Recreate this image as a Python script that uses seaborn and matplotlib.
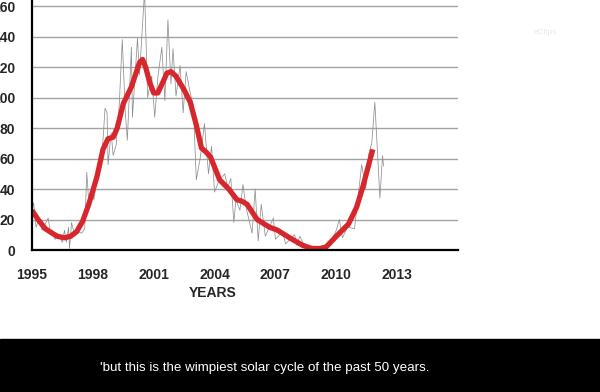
import pandas as pd
import seaborn as sns
import matplotlib.pyplot as plt

# Monthly sunspot numbers (thin grey trace)
monthly_years = [1995.00, 1995.08, 1995.2, 1995.35, 1995.5, 1995.8, 1995.9, 1996.15, 1996.3, 1996.5,
                 1996.6, 1996.7, 1996.8, 1996.85, 1996.95, 1997.1, 1997.3, 1997.45, 1997.6, 1997.7,
                 1997.8, 1997.95, 1998.05, 1998.2, 1998.35, 1998.5, 1998.6, 1998.7, 1998.75, 1998.9,
                 1999.0, 1999.15, 1999.3, 1999.45, 1999.6, 1999.7, 1999.9, 1999.95, 2000.2, 2000.3,
                 2000.55, 2000.7, 2000.9, 2001.05, 2001.2, 2001.4, 2001.55, 2001.7, 2001.85, 2001.95,
                 2002.1, 2002.3, 2002.45, 2002.6, 2002.8, 2002.95, 2003.1, 2003.3, 2003.5, 2003.7,
                 2003.85, 2004.0, 2004.2, 2004.5, 2004.65, 2004.8, 2004.95, 2005.05, 2005.25, 2005.4,
                 2005.55, 2005.85, 2006.0, 2006.15, 2006.3, 2006.5, 2006.9, 2007.0, 2007.35, 2007.5,
                 2007.95, 2008.05, 2008.2, 2008.5, 2008.8, 2009.1, 2009.4, 2009.7, 2010.0, 2010.15,
                 2010.3, 2010.55, 2010.9, 2011.25, 2011.45, 2011.6, 2011.75, 2011.9, 2012.15, 2012.28,
                 2012.33]
monthly_values = [26, 31, 15, 20, 13, 21, 12, 7, 10, 5,
                  13, 5, 15, 1, 18, 10, 12, 11, 14, 51,
                  31, 37, 33, 46, 52, 72, 93, 90, 56, 77,
                  62, 69, 95, 138, 90, 72, 133, 87, 139, 115,
                  170, 100, 114, 87, 113, 133, 98, 151, 109, 132,
                  101, 121, 90, 117, 103, 95, 46, 61, 83, 50,
                  68, 38, 45, 50, 41, 47, 18, 33, 26, 43,
                  28, 11, 40, 6, 30, 9, 21, 7, 12, 4,
                  10, 3, 9, 1, 2, 0.5, 2, 4, 13, 20,
                  8, 15, 14, 56, 40, 63, 70, 97, 34, 62,
                  55]

# Smoothed sunspot number (thick red curve)
smooth_years = [1995.0, 1995.3, 1995.65, 1996.0, 1996.25, 1996.6, 1996.9, 1997.2, 1997.5, 1997.8,
                1998.2, 1998.5, 1998.75, 1999.0, 1999.2, 1999.5, 1999.9, 2000.1, 2000.3, 2000.45,
                2000.6, 2000.8, 2001.0, 2001.2, 2001.45, 2001.65, 2001.85, 2002.1, 2002.5, 2002.8,
                2003.1, 2003.35, 2003.6, 2003.8, 2004.25, 2004.7, 2005.1, 2005.35, 2005.6, 2006.1,
                2006.7, 2007.1, 2007.7, 2008.35, 2008.8, 2009.2, 2009.5, 2010.0, 2010.6, 2011.0,
                2011.3, 2011.8]
smooth_values = [26, 20, 14, 11, 9, 8, 9, 12, 19, 30,
                 48, 66, 73, 74, 80, 96, 107, 115, 123, 125,
                 120, 110, 103, 103, 110, 116, 117, 114, 105, 97,
                 82, 67, 64, 61, 46, 40, 33, 32, 30, 20,
                 15, 13, 8, 3, 1, 1, 2, 9, 17, 28,
                 41, 66]

year_ticks = [1995, 1998, 2001, 2004, 2007, 2010, 2013]
value_ticks = [0, 20, 40, 60, 80, 100, 120, 140, 160]
caption = "'but this is the wimpiest solar cycle of the past 50 years."

monthly = pd.DataFrame({"year": monthly_years, "ssn": monthly_values})
smooth = pd.DataFrame({"year": smooth_years, "ssn": smooth_values})

sns.set_style("white")
plt.rcParams["font.family"] = ["Liberation Sans", "DejaVu Sans"]

fig = plt.figure(figsize=(6, 3.92), dpi=100)
ax = fig.add_axes([32 / 600, 142 / 392, 426 / 600, 250 / 392])

for v in value_ticks[1:]:
    ax.axhline(v, color="#a3a3a3", lw=1.0, zorder=0)

sns.lineplot(data=monthly, x="year", y="ssn", ax=ax, color="#909090", lw=0.55)
sns.lineplot(data=smooth, x="year", y="ssn", ax=ax, color="#d7262c", lw=3.8,
             solid_joinstyle="round", solid_capstyle="butt")

ax.set_xlim(1995, 2016)
ax.set_ylim(0, 164)
ax.set_xticks(year_ticks)
ax.set_yticks(value_ticks)
ax.tick_params(axis="both", direction="out", length=8, width=1.5, color="black",
               labelsize=10, pad=4)
ax.tick_params(axis="x", pad=6, length=7)
for lab in ax.get_xticklabels() + ax.get_yticklabels():
    lab.set_fontweight("bold")

for side in ["top", "right"]:
    ax.spines[side].set_visible(False)
for side in ["left", "bottom"]:
    ax.spines[side].set_color("black")
    ax.spines[side].set_linewidth(1.6)

ax.set_ylabel("")
ax.set_xlabel("YEARS", fontsize=10, fontweight="bold")
ax.xaxis.label.set_va("center")
ax.xaxis.set_label_coords((213 - 32) / 426, (250 - 293) / 250)

# faint broadcaster watermark
fig.text(545 / 600, 1 - 32 / 392, "eClips", color="#e8e8e8", fontsize=6,
         ha="center", va="center")

# subtitle bar
fig.patches.append(plt.Rectangle((0, 0), 1, 53 / 392, transform=fig.transFigure,
                                 color="black", zorder=-1))
fig.text(265 / 600, 1 - 368 / 392, caption, color="white", fontsize=9.6,
         ha="center", va="center")

fig.savefig("out.png", dpi=100)
